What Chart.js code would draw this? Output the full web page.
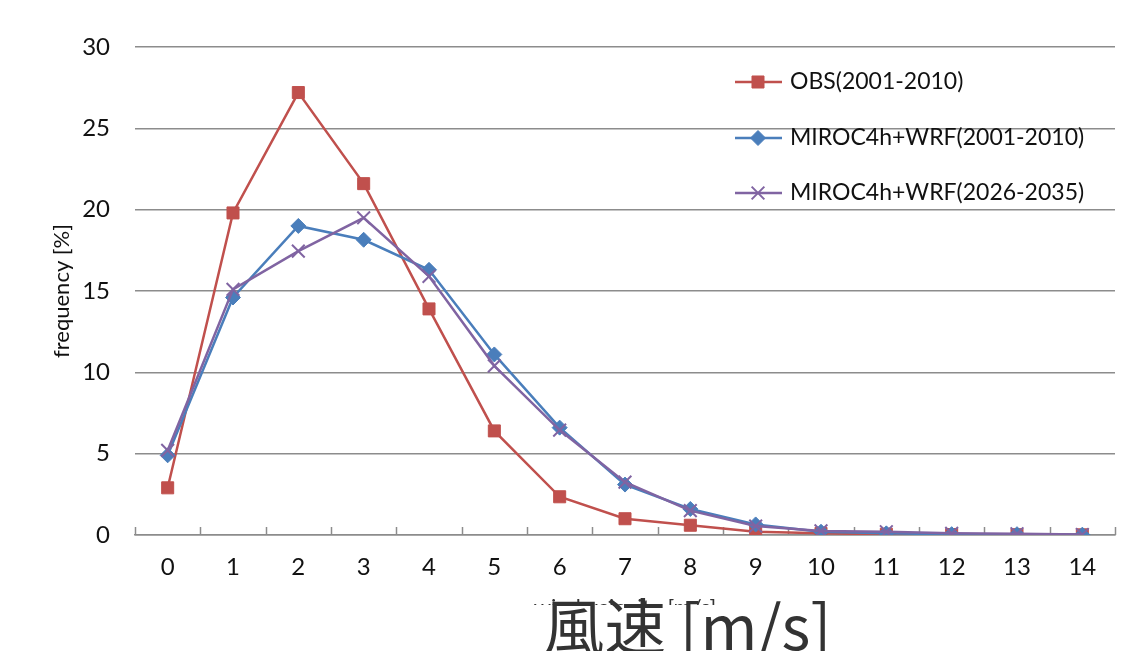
<!DOCTYPE html>
<html>
<head>
<meta charset="utf-8">
<script src="https://cdn.jsdelivr.net/npm/chart.js@4/dist/chart.umd.min.js"></script>
<style>
  html, body { margin: 0; padding: 0; background: #ffffff; }
  #wrap { position: relative; width: 1128px; height: 651px; overflow: hidden; }
  #cover { position: absolute; left: 515px; top: 605px; width: 330px; height: 46px; background: #ffffff; }
  #bigTitle { position: absolute; left: 543px; top: 593px; font-family: "Noto Sans CJK JP", sans-serif; font-size: 61.5px; line-height: 61px; color: #333333; white-space: nowrap; }
</style>
</head>
<body>
<div id="wrap">
  <canvas id="c" width="1128" height="651"></canvas>
  <div id="cover"></div>
  <div id="bigTitle">風速 [m/s]</div>
</div>
<script>
const categories = ['0','1','2','3','4','5','6','7','8','9','10','11','12','13','14'];
const obs = [2.9, 19.8, 27.2, 21.6, 13.9, 6.4, 2.35, 1.0, 0.6, 0.2, 0.1, 0.05, 0.03, 0.02, 0.01];
const mirocPast = [4.9, 14.6, 19.0, 18.15, 16.3, 11.1, 6.6, 3.1, 1.6, 0.65, 0.2, 0.1, 0.05, 0.05, 0.02];
const mirocFuture = [5.2, 15.1, 17.45, 19.5, 15.9, 10.4, 6.45, 3.25, 1.5, 0.55, 0.25, 0.2, 0.1, 0.08, 0.03];
const seriesNames = ['OBS(2001-2010)', 'MIROC4h+WRF(2001-2010)', 'MIROC4h+WRF(2026-2035)'];
const yTicks = [0, 5, 10, 15, 20, 25, 30];

const FONT = 'Lato, "Open Sans", sans-serif';

const upTicks = {
  id: 'upTicks',
  beforeDatasetsDraw(chart) {
    const x = chart.scales.x, ctx = chart.ctx;
    const step = x.getPixelForValue(1) - x.getPixelForValue(0);
    ctx.save();
    ctx.strokeStyle = '#8c8c8c';
    ctx.lineWidth = 1.5;
    for (let i = 0; i <= categories.length; i++) {
      const px = Math.round(x.getPixelForValue(i) - step / 2) + 0.5;
      ctx.beginPath();
      ctx.moveTo(px, x.top);
      ctx.lineTo(px, x.top - 8);
      ctx.stroke();
    }
    ctx.restore();
  }
};

const lineLegend = {
  id: 'lineLegend',
  afterDraw(chart) {
    const ctx = chart.ctx;
    const top = chart.chartArea.top;
    const rows = [top + 35, top + 91, top + 146];
    ctx.save();
    chart.data.datasets.forEach((ds, i) => {
      const y = rows[i];
      ctx.strokeStyle = ds.borderColor;
      ctx.lineWidth = ds.borderWidth;
      ctx.beginPath();
      ctx.moveTo(735, y);
      ctx.lineTo(782, y);
      ctx.stroke();
      ctx.fillStyle = ds.pointBackgroundColor;
      ctx.strokeStyle = ds.pointBorderColor;
      ctx.lineWidth = ds.pointBorderWidth;
      Chart.helpers.drawPoint(ctx, { pointStyle: ds.pointStyle, radius: ds.pointRadius, borderWidth: ds.pointBorderWidth, rotation: 0 }, 758, y);
      ctx.fillStyle = '#111111';
      ctx.font = '23px ' + FONT;
      ctx.textBaseline = 'middle';
      ctx.textAlign = 'left';
      ctx.fillText(ds.label, 790, y);
    });
    ctx.restore();
  }
};

new Chart(document.getElementById('c'), {
  type: 'line',
  data: {
    labels: categories,
    datasets: [
      {
        label: seriesNames[0], data: obs, order: 3,
        borderColor: '#C0504D', backgroundColor: '#C0504D', borderWidth: 2.5,
        pointStyle: 'rect', pointRadius: 8.5, pointBackgroundColor: '#C0504D', pointBorderColor: '#C0504D', pointBorderWidth: 1,
        tension: 0, fill: false
      },
      {
        label: seriesNames[1], data: mirocPast, order: 2,
        borderColor: '#4A7EBB', backgroundColor: '#4A7EBB', borderWidth: 2.5,
        pointStyle: 'rectRot', pointRadius: 7.5, pointBackgroundColor: '#4A7EBB', pointBorderColor: '#4A7EBB', pointBorderWidth: 1,
        tension: 0, fill: false
      },
      {
        label: seriesNames[2], data: mirocFuture, order: 1,
        borderColor: '#8064A2', backgroundColor: '#8064A2', borderWidth: 2.5,
        pointStyle: 'crossRot', pointRadius: 9, pointBackgroundColor: '#8064A2', pointBorderColor: '#8064A2', pointBorderWidth: 2,
        tension: 0, fill: false
      }
    ]
  },
  options: {
    responsive: false,
    animation: false,
    devicePixelRatio: 1,
    layout: { padding: { left: 0, right: 13, top: 47, bottom: 0 } },
    plugins: { legend: { display: false }, tooltip: { enabled: false } },
    scales: {
      x: {
        type: 'category',
        offset: true,
        grid: { display: false, drawTicks: false },
        border: { display: true, color: '#8c8c8c', width: 1.5 },
        ticks: { font: { family: FONT, size: 24 }, color: '#111111', padding: 18, maxRotation: 0, autoSkip: false },
        title: { display: true, text: 'wind velocity [m/s]', font: { family: FONT, size: 22 }, color: '#333333', padding: { top: 0, bottom: 30 } },
        afterFit(s) { s.height = 116; }
      },
      y: {
        min: 0, max: 30,
        afterBuildTicks(s) { s.ticks = yTicks.map(v => ({ value: v })); },
        grid: { color: '#8c8c8c', lineWidth: 1.5, drawTicks: false },
        border: { display: false },
        ticks: { font: { family: FONT, size: 24 }, color: '#111111', padding: 25 },
        title: { display: true, text: 'frequency [%]', font: { family: FONT, size: 22 }, color: '#111111', padding: { top: 49, bottom: 0 } },
        afterFit(s) { s.width = 135; }
      }
    }
  },
  plugins: [upTicks, lineLegend]
});
</script>
</body>
</html>
